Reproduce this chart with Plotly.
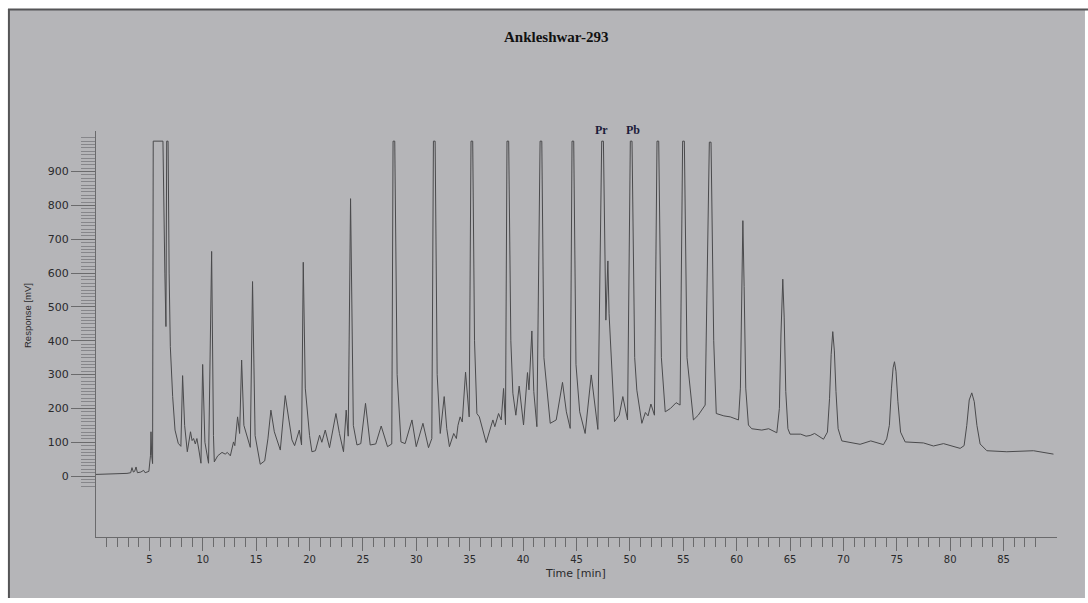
import plotly.graph_objects as go

# Chromatogram trace: retention time [min] and response [mV]
time_min = [
    0.0, 2.0, 2.9, 3.25, 3.37, 3.5, 3.62, 3.75, 3.88, 4.2, 4.46, 4.6, 4.95, 5.1, 5.15, 5.22, 5.3,
    5.36, 6.27, 6.45, 6.55, 6.62, 6.75, 6.85, 6.96, 7.18, 7.4, 7.7, 7.95, 8.11, 8.3, 8.55,
    8.85, 9.0, 9.14, 9.3, 9.45, 9.62, 9.83, 9.99, 10.2, 10.54, 10.83, 11.0, 11.08, 11.4,
    11.8, 12.1, 12.3, 12.58, 12.88, 13.0, 13.26, 13.45, 13.64, 13.85, 14.3, 14.45, 14.66,
    14.9, 15.38, 15.8, 16.1, 16.38, 16.7, 17.0, 17.26, 17.72, 18.03, 18.35, 18.6, 18.8,
    19.04, 19.25, 19.41, 19.6, 19.73, 20.0, 20.22, 20.55, 20.94, 21.15, 21.47, 21.87, 22.47,
    22.8, 23.18, 23.43, 23.62, 23.84, 24.1, 24.44, 24.8, 25.24, 25.68, 26.2, 26.71, 27.3,
    27.7, 27.82, 27.98, 28.2, 28.56, 28.95, 29.59, 29.99, 30.62, 31.14, 31.45, 31.6, 31.76,
    31.95, 32.24, 32.61, 32.85, 33.1, 33.5, 33.75, 33.9, 34.1, 34.3, 34.61, 34.95, 35.12,
    35.28, 35.45, 35.67, 35.9, 36.54, 37.17, 37.35, 37.7, 37.95, 38.17, 38.35, 38.49, 38.65,
    38.85, 39.04, 39.32, 39.63, 40.04, 40.41, 40.55, 40.82, 41.0, 41.29, 41.59, 41.75, 41.95,
    42.54, 43.1, 43.69, 44.05, 44.41, 44.58, 44.74, 44.95, 45.3, 45.81, 46.38, 46.6, 47.0,
    47.36, 47.52, 47.75, 47.94, 48.05, 48.56, 49.0, 49.34, 49.78, 50.04, 50.2, 50.45, 50.65,
    51.12, 51.45, 51.7, 51.97, 52.3, 52.54, 52.7, 52.95, 53.31, 53.8, 54.33, 54.7, 54.94,
    55.1, 55.35, 55.95, 56.4, 57.05, 57.44, 57.6, 57.85, 58.09, 58.8, 59.4, 60.17, 60.35,
    60.48, 60.58, 60.7, 60.85, 61.1, 61.41, 62.35, 63.0, 63.76, 64.0, 64.15, 64.32, 64.45,
    64.6, 64.8, 65.0, 66.0, 66.5, 66.88, 67.3, 68.13, 68.5, 68.7, 68.85, 69.0, 69.15,
    69.3, 69.5, 69.85, 71.56, 72.56, 73.75, 74.05, 74.3, 74.5, 74.65, 74.78, 74.92, 75.1,
    75.35, 75.78, 77.5, 78.43, 79.37, 80.93, 81.3, 81.55, 81.78, 82.02, 82.25, 82.5, 82.8,
    83.43, 85.3, 87.8, 89.67,
]
response_mv = [
    5, 6, 8, 10, 25, 12, 14, 27, 10, 12, 17, 10, 14, 60, 131, 60, 37,
    990, 990, 600, 442, 990, 990, 600, 383, 235, 136, 97, 88, 297, 150, 72,
    131, 105, 111, 95, 111, 80, 38, 330, 100, 38, 664, 120, 42, 60,
    70, 65, 70, 60, 101, 90, 175, 126, 343, 150, 95, 85, 575,
    120, 35, 45, 110, 195, 131, 100, 77, 238, 166, 107, 90, 110,
    136, 92, 632, 260, 215, 120, 72, 75, 121, 100, 136, 84, 185,
    126, 72, 195, 118, 820, 150, 92, 96, 215, 92, 95, 148, 87,
    95, 990, 990, 300, 101, 96, 166, 87, 156, 84, 111, 990, 990,
    300, 126, 235, 140, 87, 126, 111, 150, 175, 160, 307, 175, 990,
    990, 400, 185, 175, 99, 166, 146, 185, 166, 259, 152, 990, 990,
    400, 245, 180, 266, 151, 306, 255, 429, 250, 146, 990, 990, 350,
    156, 166, 277, 190, 141, 990, 990, 330, 190, 126, 299, 245, 138,
    990, 990, 461, 636, 480, 161, 180, 235, 166, 990, 990, 350, 254,
    156, 188, 178, 213, 180, 990, 990, 350, 190, 200, 217, 210, 990,
    990, 350, 166, 180, 210, 987, 987, 400, 185, 178, 175, 166, 260,
    600, 755, 560, 260, 151, 140, 136, 140, 128, 200, 420, 582, 470,
    250, 140, 124, 124, 118, 120, 126, 109, 130, 230, 360, 427, 370,
    250, 140, 104, 94, 104, 93, 110, 150, 260, 320, 338, 310, 220,
    130, 101, 98, 89, 96, 82, 90, 150, 225, 246, 220, 150, 95,
    75, 72, 75, 65,
]

# Axis tick values
x_major_ticks = [5, 10, 15, 20, 25, 30, 35, 40, 45, 50, 55, 60, 65, 70, 75, 80, 85]
x_minor_ticks = [t for t in range(1, 89) if t % 5 != 0]
y_major_ticks = [0, 100, 200, 300, 400, 500, 600, 700, 800, 900]
y_minor_ticks = [v for v in range(-30, 1001, 10) if v % 100 != 0 or v == 1000]

title_text = "Ankleshwar-293"
x_title = "Time [min]"
y_title = "Response [mV]"
peak_labels = ["Pr", "Pb"]

BG = "#b5b5b8"
LINE = "#4a4a4c"
TICK = "#6a6a6c"
TXT = "#2a2a2c"
SANS = "DejaVu Sans, Arial, sans-serif"
SERIF = "Liberation Serif, Times New Roman, serif"

fig = go.Figure()
fig.add_trace(go.Scatter(
    x=time_min, y=response_mv, mode="lines",
    line=dict(color=LINE, width=1),
    hoverinfo="skip", showlegend=False,
))

fig.update_layout(
    width=1088, height=603,
    margin=dict(l=96, r=31, t=131, b=66),
    paper_bgcolor=BG, plot_bgcolor=BG,
    showlegend=False,
    font=dict(family=SANS, size=10, color=TXT),
    xaxis=dict(
        range=[0, 90], showgrid=False, zeroline=False,
        showline=True, linecolor=TICK, linewidth=1,
        tickmode="array", tickvals=x_major_ticks,
        ticks="outside", ticklen=13, tickcolor=TICK, tickwidth=1,
        tickfont=dict(family=SANS, size=10, color=TXT),
        minor=dict(tickmode="array", tickvals=x_minor_ticks, ticks="outside",
                   ticklen=9, tickcolor=TICK, tickwidth=1, showgrid=False),
    ),
    yaxis=dict(
        range=[-180, 1020], showgrid=False, zeroline=False,
        showline=True, linecolor=TICK, linewidth=1,
        tickmode="array", tickvals=y_major_ticks,
        ticks="outside", ticklen=24, tickcolor=TICK, tickwidth=1,
        tickfont=dict(family=SANS, size=11, color=TXT),
        minor=dict(tickmode="array", tickvals=y_minor_ticks, ticks="outside",
                   ticklen=14, tickcolor="#86868a", tickwidth=1, showgrid=False),
    ),
)

# Axis titles, chart title and peak labels
fig.add_annotation(xref="paper", yref="paper", x=0.499, y=-0.0911, yanchor="middle",
                   text=x_title, showarrow=False, font=dict(family=SANS, size=11, color=TXT))
fig.add_annotation(xref="paper", yref="paper", x=-0.0718, y=0.5443, xanchor="center",
                   yanchor="middle", textangle=-90, text=y_title, showarrow=False,
                   font=dict(family="Liberation Sans, Arial, sans-serif", size=9.5, color=TXT))
fig.add_annotation(xref="paper", yref="paper", x=0.4787, y=1.2315, yanchor="middle",
                   text="<b>" + title_text + "</b>", showarrow=False,
                   font=dict(family=SERIF, size=15, color="#111"))
for lbl, px in zip(peak_labels, [0.5255, 0.5588]):
    fig.add_annotation(xref="paper", yref="paper", x=px, y=1.0025, yanchor="middle",
                       text="<b>" + lbl + "</b>", showarrow=False,
                       font=dict(family=SERIF, size=12, color="#1c1c3a"))

# White page around the scanned grey sheet, with its darker top/left edge
white = "#ffffff"
for x0, x1, y0, y1 in [(-0.2, -0.0916, -0.3, 1.4), (-0.2, 1.1, 1.3005, 1.4),
                       (1.0291, 1.1, -0.3, 1.4), (-0.2, 1.1, -0.3, -0.1502)]:
    fig.add_shape(type="rect", xref="paper", yref="paper", x0=x0, x1=x1, y0=y0, y1=y1,
                  fillcolor=white, line=dict(width=0), layer="above")
fig.add_shape(type="line", xref="paper", yref="paper", x0=-0.0916, x1=1.04, y0=1.2993, y1=1.2993,
              line=dict(color="#555557", width=2), layer="above")
fig.add_shape(type="line", xref="paper", yref="paper", x0=-0.0906, x1=-0.0906, y0=-0.1502, y1=1.3005,
              line=dict(color="#555557", width=2), layer="above")

fig.write_html("out.html")
